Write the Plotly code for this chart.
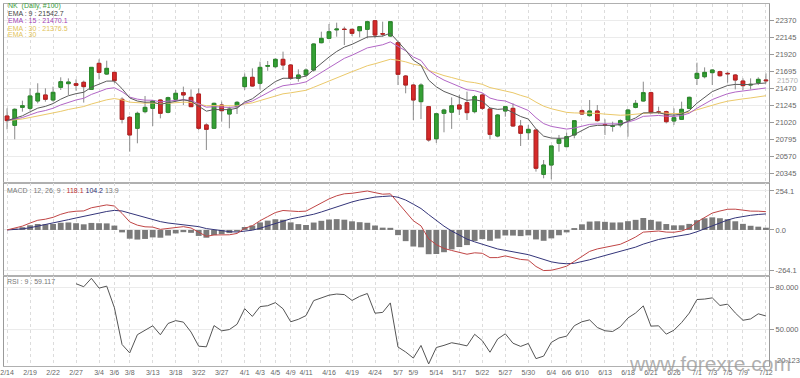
import plotly.graph_objects as go
from plotly.subplots import make_subplots

# ---------------- data ----------------
opens = [21105, 20982, 21219, 21206, 21303, 21382, 21316, 21483, 21531, 21531,
         21549, 21456, 21799, 21658, 21680, 21325, 21088, 20943, 21162, 21206,
         21316, 21153, 21325, 21413, 21351, 21395, 20987, 20943, 21250, 21131,
         21228, 21492, 21615, 21536, 21760, 21755, 21852, 21777, 21601, 21645,
         21711, 22071, 22128, 22240, 22250, 22247, 22229, 22247, 22361, 22190,
         22159, 22071, 21632, 21513, 21294, 21228, 20805, 21140, 21155, 21250,
         21281, 21162, 21382, 21197, 20841, 21171, 21206, 20973, 20885, 20920,
         20336, 20459, 20745, 20701, 20855, 21175, 21110, 21171, 20992, 20970,
         20987, 21052, 21219, 21303, 21413, 21159, 21162, 21039, 21061, 21206,
         21601, 21623, 21676, 21689, 21667, 21645, 21566, 21513, 21544, 21580]
highs = [21206, 21206, 21307, 21470, 21536, 21470, 21492, 21615, 21601, 21588,
         21571, 21746, 21852, 21834, 21689, 21351, 21105, 21162, 21369, 21316,
         21325, 21360, 21448, 21492, 21456, 21470, 21008, 21281, 21294, 21228,
         21303, 21667, 21733, 21821, 21830, 21865, 21953, 21790, 21720, 21733,
         22063, 22216, 22317, 22335, 22282, 22256, 22291, 22361, 22370, 22348,
         22357, 22085, 21645, 21527, 21536, 21237, 21140, 21200, 21350, 21382,
         21426, 21382, 21404, 21206, 21131, 21237, 21272, 21052, 20987, 20920,
         20525, 20710, 20855, 20885, 21052, 21193, 21316, 21250, 21061, 21030,
         21061, 21193, 21316, 21557, 21426, 21228, 21175, 21206, 21294, 21360,
         21808, 21746, 21720, 21702, 21689, 21658, 21601, 21601, 21615, 21667]
lows = [20929, 20798, 21162, 21175, 21272, 21294, 21294, 21448, 21382, 21439,
        21281, 21448, 21588, 21645, 21536, 21008, 20635, 20745, 21140, 20973,
        21074, 21140, 21294, 21250, 21228, 20921, 20657, 20943, 21030, 20943,
        21131, 21448, 21492, 21456, 21700, 21733, 21711, 21579, 21557, 21623,
        21689, 22063, 22115, 22150, 22040, 22159, 22142, 22128, 22128, 22150,
        22150, 21513, 21404, 21052, 21065, 20767, 20750, 20890, 20935, 21118,
        21052, 21140, 21184, 20798, 20824, 21096, 20964, 20710, 20789, 20372,
        20284, 20271, 20635, 20692, 20811, 21118, 21096, 21030, 20855, 20899,
        20956, 20833, 21206, 21294, 21140, 21131, 21008, 20987, 21052, 21193,
        21513, 21601, 21513, 21623, 21544, 21456, 21448, 21456, 21513, 21535]
closes = [21044, 21193, 21241, 21369, 21404, 21325, 21417, 21557, 21553, 21509,
          21492, 21746, 21680, 21733, 21571, 21061, 20855, 21140, 21219, 21303,
          21140, 21347, 21404, 21382, 21228, 20943, 20929, 21272, 21175, 21197,
          21285, 21615, 21500, 21746, 21770, 21852, 21777, 21601, 21645, 21711,
          22054, 22128, 22216, 22250, 22245, 22194, 22282, 22348, 22172, 22185,
          22348, 21654, 21513, 21316, 21513, 20789, 21135, 21184, 21240, 21197,
          21149, 21360, 21206, 20863, 21118, 21228, 20973, 20877, 20929, 20416,
          20459, 20710, 20798, 20833, 21043, 21131, 21171, 21044, 20987, 20975,
          21044, 21184, 21272, 21413, 21149, 21154, 21030, 21083, 21193, 21351,
          21667, 21680, 21711, 21636, 21662, 21579, 21505, 21522, 21588, 21570]

tick_idx = [0, 3, 6, 9, 12, 14, 16, 19, 22, 25, 28, 31, 33, 35, 37, 39, 42, 45, 48,
            51, 53, 56, 59, 62, 65, 68, 71, 73, 75, 78, 81, 84, 87, 90, 92, 94, 96, 99]
tick_labels = ["2/14", "2/19", "2/22", "2/27", "3/4", "3/6", "3/8", "3/13", "3/18",
               "3/22", "3/27", "4/1", "4/3", "4/5", "4/9", "4/11", "4/16", "4/19",
               "4/24", "5/7", "5/9", "5/14", "5/17", "5/22", "5/27", "5/30", "6/4",
               "6/6", "6/10", "6/13", "6/18", "6/21", "6/26", "7/1", "7/3", "7/5",
               "7/9", "7/12"]
price_ticks = [22370, 22145, 21920, 21695, 21470, 21245, 21020, 20795, 20570, 20345]
last_price = 21570
macd_ticks = [254.1, 0.0, -264.1]
macd_tick_text = ["254.1", "0.0", "-264.1"]
rsi_ticks = [80, 50]
rsi_tick_text = ["80.000", "50.000"]
rsi_bottom_label = "20.123"

title_text = "NK  (Daily, #100)"
ema_periods = [9, 15, 30]
ema_last = ["21542.7", "21470.1", "21376.5"]
macd_last = ["118.1", "104.2", "13.9"]
rsi_last = "59.117"

# ---------------- indicators (standard definitions applied to closes) ----------------
def ema(vals, span):
    a = 2.0 / (span + 1)
    out = [vals[0]]
    for v in vals[1:]:
        out.append(out[-1] + a * (v - out[-1]))
    return out

ema9 = ema(closes, 9)
ema15 = ema(closes, 15)
ema30 = ema(closes, 30)
e12 = ema(closes, 12)
e26 = ema(closes, 26)
macd = [a - b for a, b in zip(e12, e26)]
signal = ema(macd, 9)
hist = [a - b for a, b in zip(macd, signal)]

p = 9
n = len(closes)
gains = [max(closes[i] - closes[i - 1], 0) for i in range(1, n)]
losses = [max(closes[i - 1] - closes[i], 0) for i in range(1, n)]
rsi = [None] * n
ag = sum(gains[:p]) / p
al = sum(losses[:p]) / p
rsi[p] = 100 - 100 / (1 + ag / al) if al else 100
for i in range(p + 1, n):
    ag = (ag * (p - 1) + gains[i - 1]) / p
    al = (al * (p - 1) + losses[i - 1]) / p
    rsi[i] = 100 - 100 / (1 + ag / al) if al else 100

x = list(range(n))

# ---------------- figure ----------------
W, H = 800, 378
L, R, T, B = 4, 31, 4, 12
pw, ph = W - L - R, H - T - B

def px(xp):
    return (xp - L) / pw

def py(yp):
    return (H - B - yp) / ph

fig = make_subplots(rows=3, cols=1, shared_xaxes=True, vertical_spacing=0)

UP, DN = "#35a035", "#d62a2a"
WICK = "#8a8a8a"

# wick + outline layer
fig.add_trace(go.Candlestick(
    x=x, open=opens, high=highs, low=lows, close=closes,
    increasing=dict(line=dict(color=WICK, width=1), fillcolor=WICK),
    decreasing=dict(line=dict(color=WICK, width=1), fillcolor=WICK),
    hoverinfo="skip", showlegend=False), row=1, col=1)
# coloured bodies
body_hi = [max(o, c) for o, c in zip(opens, closes)]
body_lo = [min(o, c) for o, c in zip(opens, closes)]
fig.add_trace(go.Candlestick(
    x=x, open=opens, high=body_hi, low=body_lo, close=closes,
    increasing=dict(line=dict(color="#2a8a2a", width=1), fillcolor=UP),
    decreasing=dict(line=dict(color="#b82020", width=1), fillcolor=DN),
    showlegend=False), row=1, col=1)

fig.add_trace(go.Scatter(x=x, y=ema30, mode="lines", line=dict(color="#ebc96a", width=1),
                         showlegend=False), row=1, col=1)
fig.add_trace(go.Scatter(x=x, y=ema15, mode="lines", line=dict(color="#b266c6", width=1),
                         showlegend=False), row=1, col=1)
fig.add_trace(go.Scatter(x=x, y=ema9, mode="lines", line=dict(color="#5a5a5a", width=1),
                         showlegend=False), row=1, col=1)

fig.add_trace(go.Bar(x=x, y=hist, marker=dict(color="#7a7a7a", line=dict(width=0)),
                     width=0.76, showlegend=False), row=2, col=1)
fig.add_trace(go.Scatter(x=x, y=signal, mode="lines", line=dict(color="#34357a", width=1),
                         showlegend=False), row=2, col=1)
fig.add_trace(go.Scatter(x=x, y=macd, mode="lines", line=dict(color="#c04545", width=1),
                         showlegend=False), row=2, col=1)

fig.add_trace(go.Scatter(x=x, y=rsi, mode="lines", line=dict(color="#555555", width=1),
                         showlegend=False), row=3, col=1)

FONT = "Liberation Sans, Arial, sans-serif"
AX = "#9a9a9a"
GRID = "#ebebeb"

xcommon = dict(range=[-0.4, 99.4], tickvals=tick_idx, ticktext=tick_labels,
               showgrid=True, gridcolor="#dcdcdc", griddash="dot", gridwidth=1,
               showline=True, linecolor="#b0b0b0", mirror=True, zeroline=False,
               rangeslider=dict(visible=False), ticks="", automargin=False)
fig.update_xaxes(**xcommon)
fig.update_xaxes(showticklabels=False, row=1, col=1)
fig.update_xaxes(showticklabels=False, row=2, col=1)
fig.update_xaxes(showticklabels=True, tickfont=dict(size=7, color="#666", family=FONT),
                 row=3, col=1)

ycommon = dict(side="right", showline=True, linecolor=AX, mirror=True, ticks="outside",
               ticklen=4, tickcolor=AX, tickfont=dict(size=7.5, color="#666", family=FONT),
               showgrid=True, gridcolor=GRID, zeroline=False, fixedrange=True,
               automargin=False)
fig.update_yaxes(**ycommon)
fig.update_yaxes(range=[20222, 22581], tickvals=price_ticks,
                 ticktext=[str(v) for v in price_ticks], row=1, col=1)
fig.update_yaxes(range=[-300, 306], tickvals=macd_ticks, ticktext=macd_tick_text, row=2, col=1)
fig.update_yaxes(range=[23.57, 87.86], tickvals=rsi_ticks, ticktext=rsi_tick_text, row=3, col=1)

fig.update_layout(
    yaxis=dict(domain=[py(183), 1]),
    yaxis2=dict(domain=[py(276), py(183)]),
    yaxis3=dict(domain=[0, py(276)]),
)

ann = []
legend_lines = [
    (title_text, "#3c9c3c", 5.7),
    ("EMA : %d : %s" % (ema_periods[0], ema_last[0]), "#444444", 13.3),
    ("EMA : %d : %s" % (ema_periods[1], ema_last[1]), "#a242b4", 20.7),
    ("EMA : %d : %s" % (ema_periods[2], ema_last[2]), "#e2c35a", 28.0),
    ("EMA : %d" % ema_periods[2], "#e2c35a", 34.6),
]
for txt, col, yy in legend_lines:
    ann.append(dict(text=txt, x=px(6), y=py(yy), xref="paper", yref="paper",
                    xanchor="left", yanchor="middle", showarrow=False,
                    font=dict(size=7, color=col, family=FONT)))
ann.append(dict(
    text=("MACD : 12, 26, 9 : <span style='color:#b83030'>%s</span> "
          "<span style='color:#2c2c70'>%s</span> %s") % tuple(macd_last),
    x=px(5), y=py(190), xref="paper", yref="paper", xanchor="left", yanchor="middle",
    showarrow=False, font=dict(size=7, color="#777", family=FONT)))
ann.append(dict(text="RSI : 9 : %s" % rsi_last, x=px(5), y=py(281), xref="paper", yref="paper",
                xanchor="left", yanchor="middle", showarrow=False,
                font=dict(size=7, color="#777", family=FONT)))
ann.append(dict(text=str(last_price), x=px(775), y=last_price, xref="paper", yref="y",
                xanchor="left", yanchor="middle", showarrow=False,
                font=dict(size=7.5, color="#b0b0b0", family=FONT)))
ann.append(dict(text=rsi_bottom_label, x=px(775), y=py(360), xref="paper", yref="paper",
                xanchor="left", yanchor="middle", showarrow=False,
                font=dict(size=7.5, color="#666", family=FONT)))
ann.append(dict(text="www.forexre.com", x=px(627), y=py(363), xref="paper", yref="paper",
                xanchor="left", yanchor="middle", showarrow=False,
                font=dict(size=21, color="rgba(150,150,150,0.75)", family=FONT)))

fig.update_layout(
    width=W, height=H, margin=dict(l=L, r=R, t=T, b=B, autoexpand=False),
    paper_bgcolor="white", plot_bgcolor="white",
    boxgap=0.32, bargap=0.3, showlegend=False, hovermode=False,
    annotations=ann, font=dict(family=FONT),
)

fig.write_html("out.html",
               config={"displayModeBar": False, "staticPlot": True},
               post_script="document.body.style.margin='0px';"
                           "document.body.style.padding='0px';"
                           "document.body.style.overflow='hidden';")
